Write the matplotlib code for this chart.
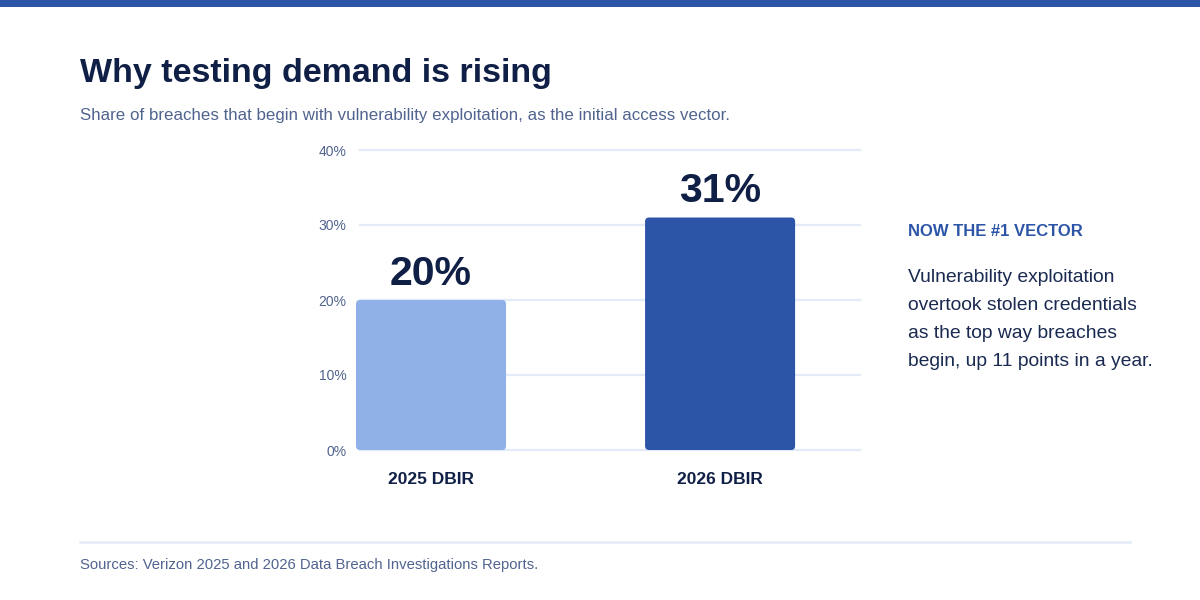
import matplotlib.pyplot as plt
from matplotlib.patches import FancyBboxPatch, Rectangle
from matplotlib.lines import Line2D

plt.rcParams['font.family'] = ['Liberation Sans', 'DejaVu Sans']

# data
categories = ['2025 DBIR', '2026 DBIR']
values = [20, 31]
bar_colors = ['#90b0e8', '#2c55a8']
yticks = [0, 10, 20, 30, 40]

navy = '#0f1f45'
muted = '#51648f'
blue = '#2c55a8'
grid = '#e3ebf8'

W, H = 1200, 600
fig = plt.figure(figsize=(12, 6), dpi=100)
fig.patch.set_facecolor('white')

# top band
fig.add_artist(Rectangle((0, 1 - 7 / H), 1, 7 / H, transform=fig.transFigure,
                         color=blue, lw=0))

fig.text(80 / W, 1 - 82 / H, 'Why testing demand is rising', fontsize=24.5,
         fontweight='bold', color=navy, va='baseline')
fig.text(80 / W, 1 - 120 / H, 'Share of breaches that begin with vulnerability exploitation, as the initial access vector.',
         fontsize=12.2, color=muted, va='baseline')

# plot area: 0% at y=450px, 40% at y=150px
ax_left, ax_right = 356, 860
ax = fig.add_axes([ax_left / W, 1 - 450 / H, (ax_right - ax_left) / W, 300 / H])
x = list(range(len(categories)))
ax.set_xlim(-0.2595, 1.484)
ax.set_ylim(0, 40)
for s in ax.spines.values():
    s.set_visible(False)
ax.set_yticks(yticks)
ax.set_yticklabels([f'{t}%' for t in yticks], color=muted, fontsize=10)
ax.tick_params(axis='y', length=0, pad=7)
ax.set_xticks([])
for t in yticks:
    ax.axhline(t, xmin=4 / 504, color=grid, lw=1.6, zorder=0, clip_on=False)

bw = 0.519
px_x = (ax_right - ax_left) / 1.7435   # pixels per x unit
px_y = 300 / 40                        # pixels per y unit
r = 4 / px_x
bars = ax.bar(x, values, width=bw, color='none')
for i, (b, c, v) in enumerate(zip(bars, bar_colors, values)):
    ax.add_patch(FancyBboxPatch((b.get_x(), 0), b.get_width(), v,
                                boxstyle=f'round,pad=0,rounding_size={r}',
                                mutation_aspect=px_x / px_y,
                                fc=c, ec='none', zorder=2))
    ax.text(x[i], v + 2, f'{v}%', ha='center',
            va='baseline', fontsize=29.5, fontweight='bold', color=navy)
    ax.text(x[i], -3.9, categories[i],
            ha='center', va='center', fontsize=12.5, fontweight='bold', color=navy)

# side note
fig.text(908 / W, 1 - 232 / H, 'NOW THE #1 VECTOR', fontsize=12, fontweight='bold',
         color=blue, va='center')
note = ['Vulnerability exploitation', 'overtook stolen credentials',
        'as the top way breaches', 'begin, up 11 points in a year.']
for i, line in enumerate(note):
    fig.text(908 / W, 1 - (277 + 28 * i) / H, line, fontsize=13.9, color='#1a2a50',
             va='center')

# footer
fig.add_artist(Line2D([80 / W, 1130 / W], [1 - 542 / H] * 2, transform=fig.transFigure,
                      color=grid, lw=1.8))
fig.text(80 / W, 1 - 565 / H, 'Sources: Verizon 2025 and 2026 Data Breach Investigations Reports.',
         fontsize=10.7, color=muted, va='center')

fig.savefig('out.png', dpi=100, facecolor='white')
